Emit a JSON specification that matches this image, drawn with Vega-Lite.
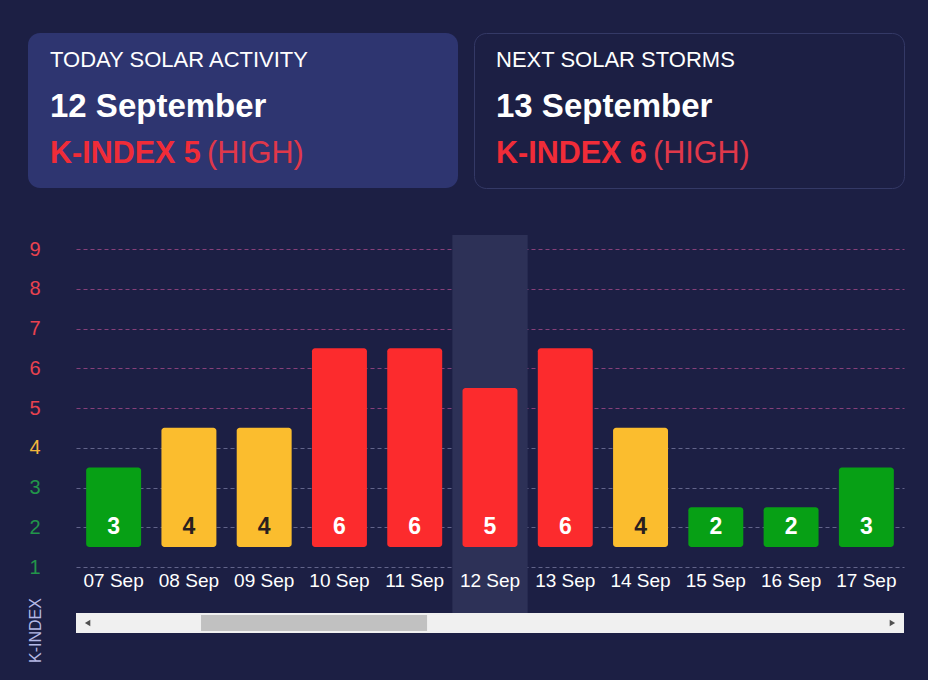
{
  "$schema": "https://vega.github.io/schema/vega-lite/v6.json",
  "background": "#1c1f44",
  "padding": {"left": 27, "top": 32, "right": 30, "bottom": 30},
  "datasets": {
    "kp": [
      {"date": "07 Sep", "k": 3},
      {"date": "08 Sep", "k": 4},
      {"date": "09 Sep", "k": 4},
      {"date": "10 Sep", "k": 6},
      {"date": "11 Sep", "k": 6},
      {"date": "12 Sep", "k": 5},
      {"date": "13 Sep", "k": 6},
      {"date": "14 Sep", "k": 4},
      {"date": "15 Sep", "k": 2},
      {"date": "16 Sep", "k": 2},
      {"date": "17 Sep", "k": 3}
    ],
    "cards": [
      {"card": "today", "heading": "TODAY SOLAR ACTIVITY", "date": "12 September", "k": 5, "level": "HIGH"},
      {"card": "next", "heading": "NEXT SOLAR STORMS", "date": "13 September", "k": 6, "level": "HIGH"}
    ]
  },
  "spacing": 46,
  "vconcat": [
    {
      "spacing": 15,
      "hconcat": [
        {
          "width": 430,
          "height": 155,
          "view": {"fill": "#2e3570", "cornerRadius": 12, "stroke": null},
          "data": {"name": "cards"},
          "transform": [
            {"filter": "datum.card == 'today'"},
            {"calculate": "'K-INDEX ' + datum.k", "as": "klabel"},
            {"calculate": "'(' + datum.level + ')'", "as": "lvl"}
          ],
          "encoding": {
            "x": {"datum": 0, "type": "quantitative", "scale": {"domain": [0, 1]}, "axis": null}
          },
          "layer": [
            {
              "mark": {"type": "text", "align": "left", "baseline": "middle", "dx": 22, "fontSize": 22, "color": "#ffffff"},
              "encoding": {
                "y": {"datum": "heading", "type": "nominal", "scale": {"type": "point", "padding": 0, "domain": ["heading", "date", "kindex"], "range": [27, 121]}, "axis": null},
                "text": {"field": "heading"}
              }
            },
            {
              "mark": {"type": "text", "align": "left", "baseline": "middle", "dx": 22, "fontSize": 33, "fontWeight": "bold", "color": "#ffffff"},
              "encoding": {
                "y": {"datum": "date", "type": "nominal"},
                "text": {"field": "date"}
              }
            },
            {
              "mark": {"type": "text", "align": "left", "baseline": "middle", "dx": 22, "fontSize": 30.5, "fontWeight": "bold", "color": "#f02c38"},
              "encoding": {
                "y": {"datum": "kindex", "type": "nominal"},
                "text": {"field": "klabel"}
              }
            },
            {
              "mark": {"type": "text", "align": "left", "baseline": "middle", "dx": 179, "fontSize": 30.5, "color": "#e0384a"},
              "encoding": {
                "y": {"datum": "kindex", "type": "nominal"},
                "text": {"field": "lvl"}
              }
            }
          ]
        },
        {
          "width": 430,
          "height": 155,
          "view": {"fill": "#1c1f44", "cornerRadius": 12, "stroke": "#343966", "strokeWidth": 1},
          "data": {"name": "cards"},
          "transform": [
            {"filter": "datum.card == 'next'"},
            {"calculate": "'K-INDEX ' + datum.k", "as": "klabel"},
            {"calculate": "'(' + datum.level + ')'", "as": "lvl"}
          ],
          "encoding": {
            "x": {"datum": 0, "type": "quantitative", "scale": {"domain": [0, 1]}, "axis": null}
          },
          "layer": [
            {
              "mark": {"type": "text", "align": "left", "baseline": "middle", "dx": 22, "fontSize": 22, "color": "#ffffff"},
              "encoding": {
                "y": {"datum": "heading", "type": "nominal", "scale": {"type": "point", "padding": 0, "domain": ["heading", "date", "kindex"], "range": [27, 121]}, "axis": null},
                "text": {"field": "heading"}
              }
            },
            {
              "mark": {"type": "text", "align": "left", "baseline": "middle", "dx": 22, "fontSize": 33, "fontWeight": "bold", "color": "#ffffff"},
              "encoding": {
                "y": {"datum": "date", "type": "nominal"},
                "text": {"field": "date"}
              }
            },
            {
              "mark": {"type": "text", "align": "left", "baseline": "middle", "dx": 22, "fontSize": 30.5, "fontWeight": "bold", "color": "#f02c38"},
              "encoding": {
                "y": {"datum": "kindex", "type": "nominal"},
                "text": {"field": "klabel"}
              }
            },
            {
              "mark": {"type": "text", "align": "left", "baseline": "middle", "dx": 179, "fontSize": 30.5, "color": "#e0384a"},
              "encoding": {
                "y": {"datum": "kindex", "type": "nominal"},
                "text": {"field": "lvl"}
              }
            }
          ]
        }
      ]
    },
    {
      "width": 876,
      "height": 318,
      "data": {"name": "kp"},
      "resolve": {"scale": {"x": "independent"}},
      "layer": [
        {
          "layer": [
            {
              "mark": {"type": "rect", "fill": "#2d3157", "yOffset": -14, "y2Offset": 46},
              "encoding": {
                "x": {"field": "date", "type": "ordinal"},
                "y": {"datum": 9, "type": "quantitative"},
                "y2": {"datum": 1},
                "opacity": {"condition": {"test": "datum.date == '12 Sep'", "value": 1}, "value": 0}
              }
            },
            {
              "mark": {"type": "bar", "width": {"band": 0.73}, "yOffset": -19.9, "y2Offset": -19.9, "cornerRadius": 3},
              "encoding": {
                "x": {
                  "field": "date", "type": "ordinal", "title": null,
                  "scale": {"paddingInner": 0, "paddingOuter": 0, "range": [48, 876]},
                  "axis": {"domain": false, "ticks": false, "tickSize": 0, "grid": false, "labelAngle": 0, "labelAlign": "center", "labelColor": "#ffffff", "labelFontSize": 19, "labelPadding": 13, "labelOverlap": false}
                },
                "y": {
                  "field": "k", "type": "quantitative",
                  "scale": {"domain": [1, 9], "nice": false, "zero": false},
                  "axis": {
                    "values": [1, 2, 3, 4, 5, 6, 7, 8, 9],
                    "tickCount": 9,
                    "labelOverlap": false,
                    "title": "K-INDEX",
                    "domain": false,
                    "ticks": false,
                    "tickSize": 0,
                    "labelAlign": "center",
                    "labelBaseline": "middle",
                    "labelPadding": -6.5,
                    "labelFontSize": 20,
                    "labelColor": {"condition": [{"test": "datum.value >= 5", "value": "#e8424f"}, {"test": "datum.value == 4", "value": "#f2b53c"}], "value": "#22964a"},
                    "grid": true,
                    "gridDash": [4, 3],
                    "gridColor": {"condition": {"test": "datum.value >= 5", "value": "#86407a"}, "value": "#62648a"},
                    "titleX": 7,
                    "titleY": 381,
                    "titleAngle": -90,
                    "titleAlign": "center",
                    "titleBaseline": "middle",
                    "titleColor": "#b5b9e6",
                    "titleFontSize": 16,
                    "titleFontWeight": "normal"
                  }
                },
                "y2": {"datum": 1},
                "color": {
                  "field": "k", "type": "quantitative",
                  "scale": {"type": "threshold", "domain": [4, 5], "range": ["#07a015", "#fbbd2e", "#fc2b2d"]},
                  "legend": null
                }
              }
            },
            {
              "mark": {"type": "text", "fontSize": 23, "fontWeight": "bold", "baseline": "middle"},
              "encoding": {
                "x": {"field": "date", "type": "ordinal"},
                "y": {"datum": 2, "type": "quantitative"},
                "text": {"field": "k"},
                "color": {"condition": {"test": "datum.k == 4", "value": "#2a1f1f"}, "value": "#ffffff"}
              }
            }
          ]
        },
        {
          "data": {"values": [{}]},
          "layer": [
            {
              "mark": {"type": "rect", "fill": "#f0f0f0", "yOffset": 46, "y2Offset": 66},
              "encoding": {
                "x": {"datum": 0, "type": "quantitative", "scale": {"domain": [0, 1], "nice": false, "zero": false, "range": [48, 876]}, "axis": null},
                "x2": {"datum": 1},
                "y": {"datum": 1, "type": "quantitative"},
                "y2": {"datum": 1}
              }
            },
            {
              "mark": {"type": "rect", "fill": "#c1c1c1", "yOffset": 48, "y2Offset": 64},
              "encoding": {
                "x": {"datum": 0.151, "type": "quantitative"},
                "x2": {"datum": 0.424},
                "y": {"datum": 1, "type": "quantitative"},
                "y2": {"datum": 1}
              }
            },
            {
              "mark": {"type": "point", "shape": "triangle-left", "filled": true, "size": 40, "color": "#505050", "opacity": 1, "yOffset": 56},
              "encoding": {
                "x": {"datum": 0.014, "type": "quantitative"},
                "y": {"datum": 1, "type": "quantitative"}
              }
            },
            {
              "mark": {"type": "point", "shape": "triangle-right", "filled": true, "size": 40, "color": "#505050", "opacity": 1, "yOffset": 56},
              "encoding": {
                "x": {"datum": 0.986, "type": "quantitative"},
                "y": {"datum": 1, "type": "quantitative"}
              }
            }
          ]
        }
      ]
    }
  ],
  "config": {
    "font": "Liberation Sans",
    "view": {"stroke": null}
  }
}
